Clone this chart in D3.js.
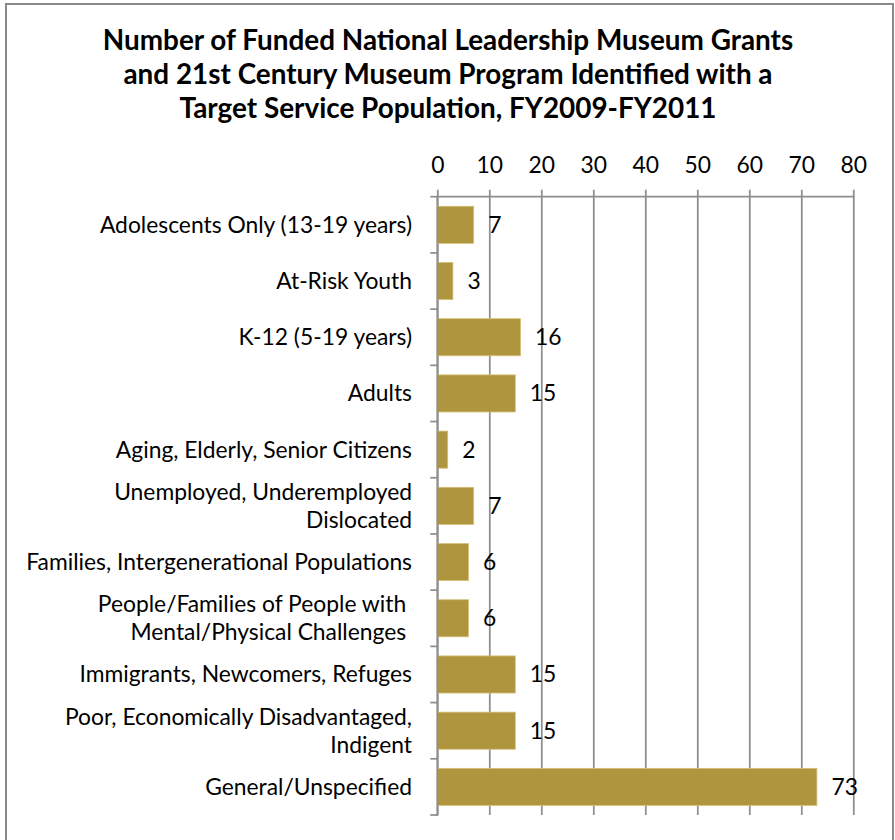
<!DOCTYPE html>
<html>
<head>
<meta charset="utf-8">
<script src="https://cdn.jsdelivr.net/npm/d3@7"></script>
<style>
  html, body { margin: 0; padding: 0; background: #fff; }
  svg { display: block; }
  text { white-space: pre; }
</style>
</head>
<body>
<svg id="chart" width="895" height="840"></svg>
<script>
// ---- Data ----
const titleLines = [
  "Number of Funded National Leadership Museum Grants",
  "and 21st Century Museum Program Identified with a",
  "Target Service Population, FY2009-FY2011"
];
const categories = [
  ["Adolescents Only (13-19 years)"],
  ["At-Risk Youth"],
  ["K-12 (5-19 years)"],
  ["Adults"],
  ["Aging, Elderly, Senior Citizens"],
  ["Unemployed, Underemployed", "Dislocated"],
  ["Families, Intergenerational Populations"],
  ["People/Families of People with ", "Mental/Physical Challenges "],
  ["Immigrants, Newcomers, Refuges"],
  ["Poor, Economically Disadvantaged,", "Indigent"],
  ["General/Unspecified"]
];
const values = [7, 3, 16, 15, 2, 7, 6, 6, 15, 15, 73];
const tickValues = [0, 10, 20, 30, 40, 50, 60, 70, 80];

(function () {
// ---- Style ----
const FONT = "Lato, 'Liberation Sans', Arial, sans-serif";
const barColor = "#B0953F";
const gridColor = "#8e8e8e";

const svg = d3.select("#chart");

// frame
svg.append("rect")
  .attr("x", 6).attr("y", 4).attr("width", 887).attr("height", 850)
  .attr("fill", "none").attr("stroke", "#8a8a8a").attr("stroke-width", 2);

const pLeft = 437.3, pRight = 853.3, pTop = 196.7, pBottom = 815;
const x = d3.scaleLinear().domain([0, 80]).range([pLeft, pRight]);
const y = d3.scaleBand()
  .domain(d3.range(categories.length))
  .range([pTop, pBottom])
  .paddingInner(0.34).paddingOuter(0.17);

function fitSize(str, weight, target, base) {
  const t = svg.append("text").attr("font-family", FONT)
    .attr("font-weight", weight).attr("font-size", base).text(str);
  const w = t.node().getComputedTextLength();
  t.remove();
  return base * target / w;
}
const labelSize = fitSize("Families, Intergenerational Populations", "normal", 386, 20);
const titleSize = fitSize(titleLines[0], "bold", 691, 24);
const lineGap = labelSize * 1.21;

// title
const titleBase = [50, 84, 118];
svg.append("g").selectAll("text").data(titleLines).join("text")
  .attr("x", 448).attr("y", (d, i) => titleBase[i])
  .attr("text-anchor", "middle")
  .attr("font-family", FONT).attr("font-weight", "bold")
  .attr("font-size", titleSize).attr("fill", "#000")
  .text(d => d);

// gridlines + top axis
const xAxis = d3.axisTop(x).tickValues(tickValues).tickSize(0).tickPadding(0);
const gx = svg.append("g").attr("transform", `translate(0,${pTop})`).call(xAxis);
gx.select(".domain").remove();
gx.selectAll(".tick text")
  .attr("y", 173 - pTop).attr("dy", null)
  .attr("font-family", FONT).attr("font-size", labelSize).attr("fill", "#000");
gx.selectAll(".tick").append("line")
  .attr("y1", -7).attr("y2", pBottom - pTop)
  .attr("stroke", gridColor).attr("stroke-width", 1.75);
svg.append("line").attr("x1", pLeft).attr("x2", pRight + 1).attr("y1", pTop).attr("y2", pTop)
  .attr("stroke", gridColor).attr("stroke-width", 1.75);

// bars
svg.append("g").selectAll("rect").data(values).join("rect")
  .attr("x", x(0)).attr("y", (d, i) => y(i))
  .attr("width", d => x(d) - x(0)).attr("height", y.bandwidth())
  .attr("fill", barColor).attr("stroke", "#d6c17a").attr("stroke-width", 0.8);

// left axis line and category boundary ticks
svg.append("line").attr("x1", pLeft).attr("x2", pLeft).attr("y1", pTop).attr("y2", pBottom + 1)
  .attr("stroke", gridColor).attr("stroke-width", 1.75);
const step = y.step();
svg.append("g").selectAll("line").data(d3.range(categories.length + 1)).join("line")
  .attr("x1", pLeft - 7).attr("x2", pLeft)
  .attr("y1", d => pTop + d * step).attr("y2", d => pTop + d * step)
  .attr("stroke", gridColor).attr("stroke-width", 1.75);

// category labels
const lab = svg.append("g").selectAll("text").data(categories).join("text")
  .attr("text-anchor", "end")
  .attr("font-family", FONT).attr("font-size", labelSize).attr("fill", "#000");
lab.each(function(lines, i) {
  const cy = y(i) + y.bandwidth() / 2;
  const n = lines.length;
  d3.select(this).selectAll("tspan").data(lines).join("tspan")
    .attr("x", 412)
    .attr("y", (d, j) => cy + 8 + (j - (n - 1) / 2) * lineGap)
    .text(d => d);
});

// value labels
svg.append("g").selectAll("text").data(values).join("text")
  .attr("x", d => x(d) + 14.5)
  .attr("y", (d, i) => y(i) + y.bandwidth() / 2 + 8)
  .attr("font-family", FONT).attr("font-size", labelSize).attr("fill", "#000")
  .text(d => d);
})();
</script>
</body>
</html>
